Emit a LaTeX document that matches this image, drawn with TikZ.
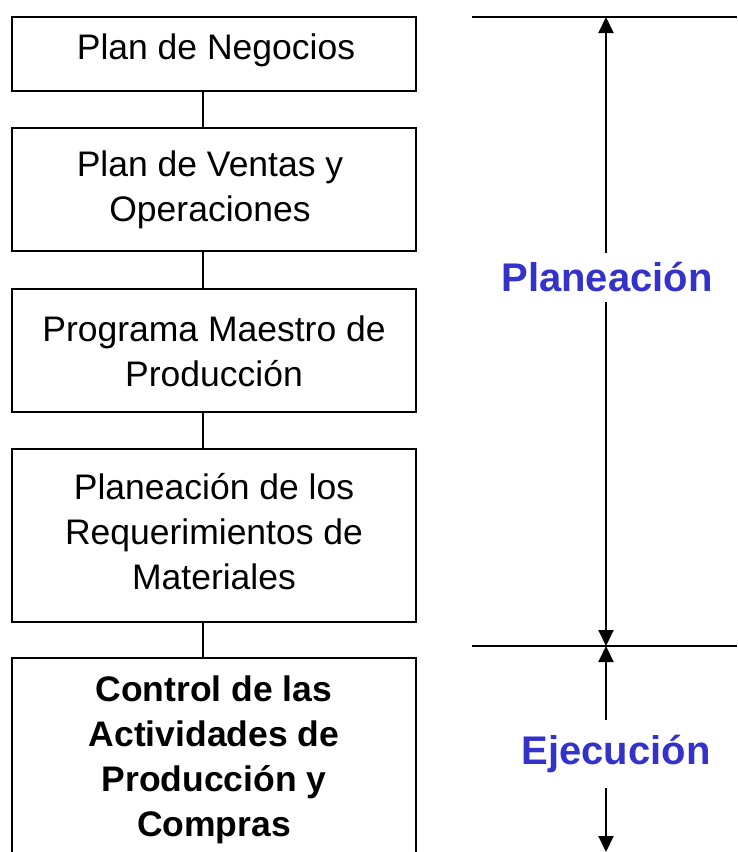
\documentclass[tikz,border=0pt]{standalone}
\usepackage{fontspec}
\setmainfont{Liberation Sans}
\usetikzlibrary{arrows.meta}
\definecolor{lblblue}{RGB}{51,51,204}
\begin{document}
\begin{tikzpicture}[x=1pt,y=1pt,
  stagebox/.style={draw=black,line width=2.2pt},
  boxtext/.style={align=center,font=\fontsize{35.5}{45}\selectfont,inner sep=0pt},
  bluelbl/.style={font=\fontsize{40}{46}\selectfont\bfseries,text=lblblue,fill=white,inner sep=0pt},
  link/.style={line width=2pt},
  dimboth/.style={line width=2pt,{Triangle[length=16pt,width=15pt]}-{Triangle[length=16pt,width=15pt]}},
  rule/.style={line width=2pt}]
\clip (0,0) rectangle (737,-852);
\useasboundingbox (0,0) rectangle (737,-852);
\fill[white] (0,0) rectangle (737,-852);
% boxes
\draw[stagebox] (12,-17) rectangle (416,-91);
\draw[stagebox] (12,-128) rectangle (416,-251);
\draw[stagebox] (12,-289) rectangle (416,-412);
\draw[stagebox] (12,-449) rectangle (416,-622);
\draw[stagebox] (12,-658) rectangle (416,-880);
\node[boxtext] (b1) at (216,-50) {Plan de Negocios};
\node[boxtext] (b2) at (210,-190) {Plan de Ventas y\\Operaciones};
\node[boxtext] (b3) at (214,-351) {Programa Maestro de\\Producción};
\node[boxtext] (b4) at (214,-532) {Planeación de los\\Requerimientos de\\Materiales};
\node[boxtext,font=\fontsize{35.5}{45}\selectfont\bfseries] (b5) at (214,-760) {Control de las\\Actividades de\\Producción y\\Compras};
% connectors
\coordinate (c1a) at (203,-91); \coordinate (c1b) at (203,-128);
\coordinate (c2a) at (203,-251); \coordinate (c2b) at (203,-289);
\coordinate (c3a) at (203,-412); \coordinate (c3b) at (203,-449);
\coordinate (c4a) at (203,-622); \coordinate (c4b) at (203,-658);
\draw[link] (c1a) -- (c1b);
\draw[link] (c2a) -- (c2b);
\draw[link] (c3a) -- (c3b);
\draw[link] (c4a) -- (c4b);
% rules
\coordinate (t1) at (472,-17); \coordinate (t2) at (737,-17);
\coordinate (m1) at (472,-646); \coordinate (m2) at (737,-646);
\draw[rule] (t1) -- (t2);
\draw[rule] (m1) -- (m2);
% dimension arrows
\coordinate (top) at (606,-17);
\coordinate (mid) at (606,-646);
\coordinate (bot) at (606,-852);
\draw[dimboth] (top) -- (mid);
\draw[dimboth] (mid) -- (bot);
\node[bluelbl,minimum height=49pt] (pl) at (607,-277) {Planeación};
\node[bluelbl,minimum height=68pt] (ej) at (616,-754) {Ejecución};
\end{tikzpicture}
\end{document}
